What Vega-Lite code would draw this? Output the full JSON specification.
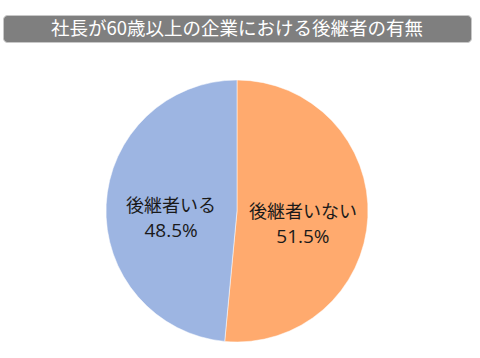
{
  "$schema": "https://vega.github.io/schema/vega-lite/v6.json",
  "padding": {"left": 2, "top": 14, "right": 10, "bottom": 0},
  "spacing": 19,
  "background": "white",
  "config": {"view": {"stroke": null}, "font": "Noto Sans CJK JP"},
  "vconcat": [
    {
      "width": 468,
      "height": 27,
      "view": {"fill": "#7f7f7f", "stroke": "#c8c8c8", "strokeWidth": 1, "cornerRadius": 4},
      "data": {"values": [{"title": "社長が60歳以上の企業における後継者の有無"}]},
      "mark": {"type": "text", "color": "white", "fontSize": 18.5, "baseline": "middle", "align": "center"},
      "encoding": {"text": {"field": "title", "type": "nominal"}}
    },
    {
      "width": 468,
      "height": 298,
      "data": {
        "values": [
          {"label": "後継者いない", "pct": 51.5, "order": 1, "pctText": "51.5%"},
          {"label": "後継者いる", "pct": 48.5, "order": 2, "pctText": "48.5%"}
        ]
      },
      "encoding": {
        "theta": {"field": "pct", "type": "quantitative", "stack": true},
        "order": {"field": "order", "type": "quantitative"}
      },
      "layer": [
        {
          "mark": {"type": "arc", "outerRadius": 131, "stroke": "white", "strokeWidth": 0.5},
          "encoding": {
            "color": {
              "field": "label",
              "type": "nominal",
              "scale": {"domain": ["後継者いない", "後継者いる"], "range": ["#FFAA6E", "#9DB5E2"]},
              "legend": null
            }
          }
        },
        {
          "mark": {"type": "text", "radius": 66, "fontSize": 18, "color": "#1a1a1a", "baseline": "middle", "dy": -1},
          "encoding": {"text": {"field": "label", "type": "nominal"}}
        },
        {
          "mark": {"type": "text", "radius": 66, "font": "Open Sans", "fontSize": 19, "color": "#1a1a1a", "baseline": "middle", "dy": 23},
          "encoding": {"text": {"field": "pctText", "type": "nominal"}}
        }
      ]
    }
  ]
}
